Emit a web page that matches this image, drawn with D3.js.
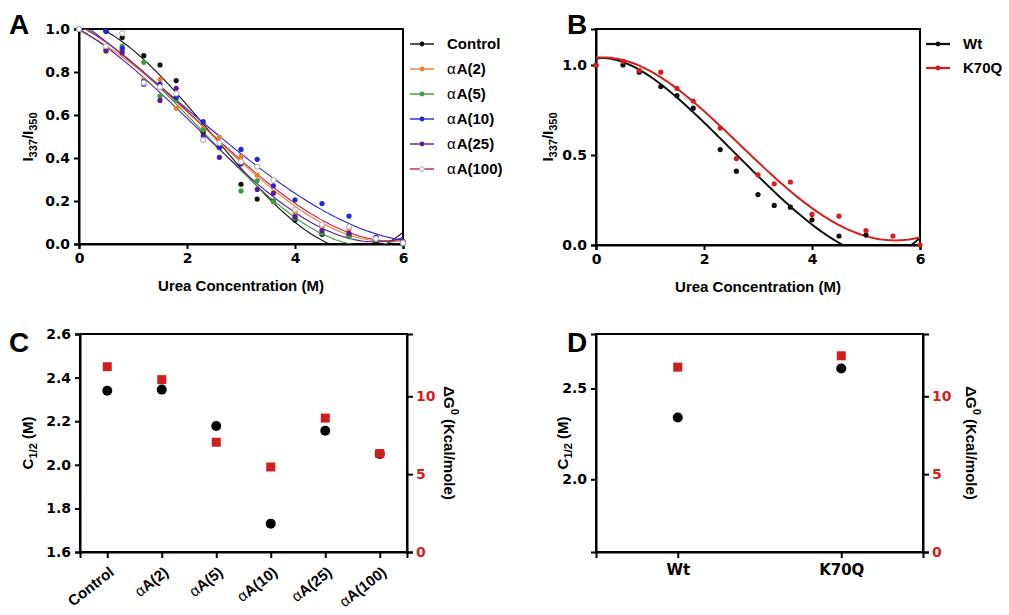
<!DOCTYPE html>
<html>
<head>
<meta charset="utf-8">
<script src="https://cdn.jsdelivr.net/npm/d3@7"></script>
<style>
  body { margin: 0; background: #fff; }
  svg { font-family: "Liberation Sans", Arial, sans-serif; }
  .tick text { font-family: "DejaVu Sans", sans-serif; font-weight: bold; font-size: 14px; }
  .cat .tick text { font-family: "Liberation Sans", Arial, sans-serif; font-size: 15px; }
  .domain { stroke-width: 2px; }
  .tick line { stroke-width: 2px; }
</style>
</head>
<body>
<svg id="chart" width="1009" height="615"></svg>
<script>
// urea concentrations (M)
var urea = [0, 0.5, 0.8, 1.2, 1.5, 1.8, 2.3, 2.6, 3.0, 3.3, 3.6, 4.0, 4.5, 5.0, 5.5, 6.0];

// panel A: I337/I350 ratios
var seriesA = ["Control", "αA(2)", "αA(5)", "αA(10)", "αA(25)", "αA(100)"];
var ctrl  = [1.0, 0.99, 0.96, 0.876, 0.833, 0.76, 0.52, 0.45, 0.278, 0.209, 0.2, 0.112, 0.045, 0.04, 0.01, 0.0];
var aA2   = [1.0, 0.895, 0.90, 0.763, 0.766, 0.631, 0.538, 0.496, 0.406, 0.32, 0.239, 0.147, 0.078, 0.07, 0.03, 0.01];
var aA5   = [1.0, 0.91, 0.92, 0.845, 0.688, 0.67, 0.53, 0.46, 0.247, 0.294, 0.197, 0.12, 0.05, 0.034, 0.02, 0.0];
var aA10  = [1.0, 0.99, 0.91, 0.755, 0.744, 0.682, 0.569, 0.45, 0.44, 0.394, 0.271, 0.205, 0.188, 0.13, 0.03, 0.01];
var aA25  = [1.0, 0.90, 0.89, 0.743, 0.668, 0.724, 0.502, 0.403, 0.372, 0.254, 0.236, 0.127, 0.062, 0.05, 0.031, 0.01];
var aA100 = [1.0, 0.92, 0.98, 0.75, 0.73, 0.70, 0.484, 0.47, 0.383, 0.36, 0.298, 0.16, 0.09, 0.08, 0.025, 0.005];
var colorsA = ["#111111", "#e8822a", "#3c9b3c", "#2424d8", "#5a1a9e", "#c8214e"];

// panel B: points and the fitted curves
var seriesB = ["Wt", "K70Q"];
var wt   = [1.0, 1.0, 0.96, 0.88, 0.83, 0.76, 0.53, 0.41, 0.28, 0.22, 0.21, 0.14, 0.05, 0.055];
var k70q = [1.0, 1.02, 0.97, 0.96, 0.87, 0.80, 0.65, 0.48, 0.39, 0.34, 0.35, 0.17, 0.16, 0.08, 0.05, 0.0];
var fitX     = [0, 0.5, 1, 1.5, 2, 2.5, 3, 3.5, 4, 4.5, 5, 5.5, 6];
var wtFit    = [1.04, 1.01, 0.93, 0.83, 0.69, 0.53, 0.37, 0.235, 0.12, 0.025, -0.05, -0.06, 0.045];
var k70qFit  = [1.04, 1.03, 0.96, 0.87, 0.75, 0.61, 0.45, 0.32, 0.21, 0.115, 0.05, 0.02, 0.045];
var colorsB = ["#111111", "#d41f1f"];

// panel C / D: midpoints and free energies
var catsC = ["Control", "αA(2)", "αA(5)", "αA(10)", "αA(25)", "αA(100)"];
var c12C = [2.34, 2.345, 2.178, 1.73, 2.156, 2.05];
var dgC  = [11.9, 11.07, 7.05, 5.46, 8.6, 6.32];
var catsD = ["Wt", "K70Q"];
var c12D = [2.34, 2.61];
var dgD  = [11.87, 12.6];

var red = "#d11f1f";
var svg = d3.select("#chart");

// least squares polynomial fit
function polyFit(xs, ys, deg) {
    var n = deg + 1, A = [], i, j, k;
    for (i = 0; i < n; i++) { A.push(new Array(n + 1).fill(0)); }
    xs.forEach(function (x, p) {
        for (i = 0; i < n; i++) {
            for (j = 0; j < n; j++) A[i][j] += Math.pow(x, i + j);
            A[i][n] += ys[p] * Math.pow(x, i);
        }
    });
    for (i = 0; i < n; i++) {
        var m = i;
        for (k = i + 1; k < n; k++) if (Math.abs(A[k][i]) > Math.abs(A[m][i])) m = k;
        var t = A[i]; A[i] = A[m]; A[m] = t;
        for (k = i + 1; k < n; k++) {
            var f = A[k][i] / A[i][i];
            for (j = i; j <= n; j++) A[k][j] -= f * A[i][j];
        }
    }
    var c = new Array(n).fill(0);
    for (i = n - 1; i >= 0; i--) {
        var s = A[i][n];
        for (j = i + 1; j < n; j++) s -= A[i][j] * c[j];
        c[i] = s / A[i][i];
    }
    return function (x) { return c.reduce(function (a, ci, p) { return a + ci * Math.pow(x, p); }, 0); };
}

function frame(g, x0, x1, y0, y1) {
    g.append("rect").attr("x", x0).attr("y", y0).attr("width", x1 - x0).attr("height", y1 - y0)
        .attr("fill", "none").attr("stroke", "#000").attr("stroke-width", 2);
}

function panelLetter(t, x, y) {
    svg.append("text").attr("x", x).attr("y", y).text(t)
        .style("font-size", "28px").style("font-weight", "bold");
}

function ratioLabel(x, y) {
    var t = svg.append("text").attr("transform", "translate(" + x + "," + y + ") rotate(-90)")
        .attr("text-anchor", "middle").style("font-size", "15px").style("font-weight", "bold");
    t.append("tspan").text("I");
    t.append("tspan").text("337").attr("dy", 4).style("font-size", "11px");
    t.append("tspan").text("/I").attr("dy", -4);
    t.append("tspan").text("350").attr("dy", 4).style("font-size", "11px");
}

// curve panel (A, B)
function curvePanel(opt) {
    var x = d3.scaleLinear().domain([0, 6]).range([opt.x0, opt.x1]);
    var y = d3.scaleLinear().domain(opt.ydom).range([opt.y1, opt.y0]);
    var g = svg.append("g");

    g.append("clipPath").attr("id", opt.id + "clip").append("rect")
        .attr("x", opt.x0).attr("y", opt.y0).attr("width", opt.x1 - opt.x0).attr("height", opt.y1 - opt.y0);

    g.append("g").attr("transform", "translate(0," + opt.y1 + ")")
        .call(d3.axisBottom(x).tickValues([0, 2, 4, 6]).tickFormat(d3.format("d")).tickSize(5).tickPadding(4));
    g.append("g").attr("transform", "translate(" + opt.x0 + ",0)")
        .call(d3.axisLeft(y).tickValues(opt.yticks).tickFormat(d3.format(".1f")).tickSize(5).tickPadding(4));
    frame(g, opt.x0, opt.x1, opt.y0, opt.y1);

    var line = d3.line().x(function (d) { return x(d[0]); }).y(function (d) { return y(d[1]); });
    var plot = g.append("g").attr("clip-path", "url(#" + opt.id + "clip)");

    opt.series.forEach(function (vals, si) {
        // cubic fit to the points (A) or smooth fit to the curve (B)
        var f = opt.fits ? polyFit(fitX, opt.fits[si], 5) : polyFit(urea.slice(0, vals.length), vals, 3);
        var pts = d3.range(0, 6.001, 0.05).map(function (u) { return [u, f(u)]; });
        plot.append("path").datum(pts).attr("d", line).attr("fill", "none")
            .attr("stroke", opt.colors[si]).attr("stroke-width", opt.lw);
    });
    opt.series.forEach(function (vals, si) {
        var open = opt.open && si === opt.series.length - 1;
        g.append("g").selectAll("circle").data(vals).enter().append("circle")
            .attr("cx", function (d, i) { return x(urea[i]); })
            .attr("cy", function (d) { return y(d); })
            .attr("r", 2.6)
            .attr("fill", open ? "#fff" : opt.colors[si])
            .attr("stroke", open ? "#aaa" : "none").attr("stroke-width", 1);
    });

    svg.append("text").attr("x", (opt.x0 + opt.x1) / 2).attr("y", opt.y1 + 47)
        .attr("text-anchor", "middle").text("Urea Concentration (M)")
        .style("font-size", "15px").style("font-weight", "bold");

    // legend
    var lg = svg.append("g");
    opt.names.forEach(function (n, i) {
        var ly = opt.legY + i * opt.legStep;
        lg.append("line").attr("x1", opt.legX).attr("x2", opt.legX + 24).attr("y1", ly).attr("y2", ly)
            .attr("stroke", opt.colors[i]).attr("stroke-width", opt.lw + 0.3);
        var open = opt.open && i === opt.names.length - 1;
        lg.append("circle").attr("cx", opt.legX + 12).attr("cy", ly).attr("r", 2.4)
            .attr("fill", open ? "#fff" : opt.colors[i]).attr("stroke", open ? "#aaa" : "none");
        var t = lg.append("text").attr("x", opt.legX + 37).attr("y", ly + 5)
            .style("font-size", "15px").style("font-weight", "bold");
        if (n.charAt(0) === "α") {
            t.append("tspan").text("α").style("font-weight", "normal");
            t.append("tspan").text(n.slice(1)).attr("dx", 1);
        } else {
            t.text(n);
        }
    });
}

curvePanel({
    id: "a", x0: 79, x1: 403, y0: 29, y1: 244, ydom: [0, 1], yticks: [0, 0.2, 0.4, 0.6, 0.8, 1.0],
    series: [ctrl, aA2, aA5, aA10, aA25, aA100], colors: colorsA, names: seriesA, lw: 1.1, open: true,
    legX: 410, legY: 44, legStep: 25
});
curvePanel({
    id: "b", x0: 596, x1: 920, y0: 29, y1: 245, ydom: [0, 1.2], yticks: [0, 0.5, 1.0],
    series: [wt, k70q], fits: [wtFit, k70qFit], colors: colorsB, names: seriesB, lw: 2, open: false,
    legX: 926, legY: 44, legStep: 24
});
ratioLabel(33, 137);
ratioLabel(553, 137);
panelLetter("A", 9, 34);
panelLetter("B", 567, 34);

// summary panels (C, D)
function summaryPanel(opt) {
    var x = d3.scalePoint().domain(opt.cats).range([opt.x0, opt.x1]).padding(0.5);
    var y = d3.scaleLinear().domain(opt.ydom).range([opt.y1, opt.y0]);
    var y2 = d3.scaleLinear().domain([0, 14]).range([opt.y1, opt.y0]);
    var g = svg.append("g");

    var xa = g.append("g").attr("class", "cat").attr("transform", "translate(0," + opt.y1 + ")")
        .call(d3.axisBottom(x).tickSize(6).tickPadding(6));
    if (opt.rotate) {
        xa.selectAll(".tick text").attr("text-anchor", "end").attr("x", 0).attr("y", 0)
            .attr("dy", "0.35em").attr("transform", "translate(4,18) rotate(-38)");
        xa.selectAll(".tick text").each(function (d) {
            if (d.charAt(0) === "α") {
                var t = d3.select(this).text(null);
                t.append("tspan").text("α").style("font-weight", "normal");
                t.append("tspan").text(d.slice(1));
            }
        });
    } else {
        xa.selectAll(".tick text").style("font-family", "DejaVu Sans, sans-serif");
    }
    g.append("g").attr("transform", "translate(" + opt.x0 + ",0)")
        .call(d3.axisLeft(y).tickValues(opt.yticks).tickFormat(d3.format(".1f")).tickSize(5).tickPadding(4));
    var ra = g.append("g").attr("transform", "translate(" + opt.x1 + ",0)")
        .call(d3.axisRight(y2).tickValues([0, 5, 10]).tickSize(6).tickPadding(3));
    ra.selectAll(".tick text").attr("fill", red);
    frame(g, opt.x0, opt.x1, opt.y0, opt.y1);

    g.append("g").selectAll("circle").data(opt.c12).enter().append("circle")
        .attr("cx", function (d, i) { return x(opt.cats[i]); })
        .attr("cy", function (d) { return y(d); })
        .attr("r", 5).attr("fill", "#000");
    g.append("g").selectAll("rect").data(opt.dg).enter().append("rect")
        .attr("x", function (d, i) { return x(opt.cats[i]) - 4.5; })
        .attr("y", function (d) { return y2(d) - 4.5; })
        .attr("width", 9).attr("height", 9).attr("fill", red);

    var cl = svg.append("text").attr("transform", "translate(" + opt.lx + ",443) rotate(-90)")
        .attr("text-anchor", "middle").style("font-size", "15px").style("font-weight", "bold");
    cl.append("tspan").text("C");
    cl.append("tspan").text("1/2").attr("dy", 4).style("font-size", "11px");
    cl.append("tspan").text(" (M)").attr("dy", -4);

    var rl = svg.append("text").attr("transform", "translate(" + opt.rx + ",443) rotate(90)")
        .attr("text-anchor", "middle").style("font-size", "15px").style("font-weight", "bold");
    rl.append("tspan").text("ΔG");
    rl.append("tspan").text("0").attr("dy", -7).style("font-size", "11px");
    rl.append("tspan").text(" (Kcal/mole)").attr("dy", 7);
}

summaryPanel({
    cats: catsC, c12: c12C, dg: dgC, x0: 80, x1: 407, y0: 334, y1: 552,
    ydom: [1.6, 2.6], yticks: [1.6, 1.8, 2.0, 2.2, 2.4, 2.6], rotate: true, lx: 33, rx: 444
});
summaryPanel({
    cats: catsD, c12: c12D, dg: dgD, x0: 596, x1: 923, y0: 334, y1: 552,
    ydom: [1.6, 2.8], yticks: [2.0, 2.5], rotate: false, lx: 568, rx: 966
});
panelLetter("C", 9, 352);
panelLetter("D", 567, 352);
</script>
</body>
</html>
